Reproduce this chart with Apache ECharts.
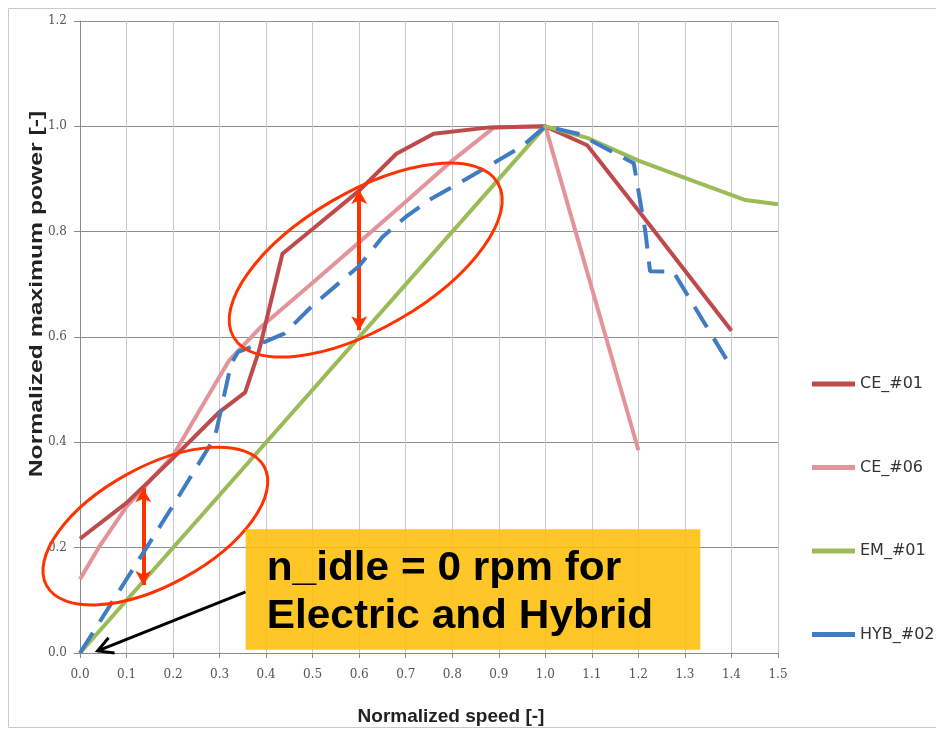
<!DOCTYPE html>
<html><head><meta charset="utf-8">
<script src="https://cdn.jsdelivr.net/npm/echarts@6/dist/echarts.min.js"></script>
<style>html,body{margin:0;padding:0;background:#fff}#c{width:936px;height:731px}</style>
</head><body><div id="c"></div>
<script>
// ---- data ----
const seriesNames = ['CE_#01', 'CE_#06', 'EM_#01', 'HYB_#02'];

const ce01X = [0, 0.1, 0.2, 0.3, 0.355, 0.385, 0.435, 0.5, 0.6, 0.68, 0.76, 0.88, 1.0, 1.09, 1.2, 1.4];
const ce01Y = [0.217, 0.285, 0.37, 0.458, 0.495, 0.575, 0.758, 0.805, 0.878, 0.948, 0.986, 0.998, 1.0, 0.964, 0.84, 0.612];

const ce06X = [0, 0.04, 0.1, 0.2, 0.26, 0.32, 0.39, 0.5, 0.6, 0.7, 0.8, 0.89, 1.0, 1.2];
const ce06Y = [0.14, 0.2, 0.278, 0.375, 0.465, 0.555, 0.62, 0.703, 0.78, 0.857, 0.935, 0.998, 1.0, 0.385];

const em01X = [0, 1.0, 1.09, 1.2, 1.3, 1.43, 1.5];
const em01Y = [0, 1.0, 0.978, 0.935, 0.902, 0.86, 0.852];

const hyb02X = [0, 0.1, 0.2, 0.29, 0.325, 0.34, 0.39, 0.44, 0.5, 0.6, 0.65, 0.7, 0.75, 0.83, 0.95, 1.0, 1.07, 1.19, 1.215, 1.225, 1.275, 1.4];
const hyb02Y = [0, 0.14, 0.28, 0.41, 0.55, 0.572, 0.588, 0.607, 0.66, 0.735, 0.79, 0.828, 0.86, 0.9, 0.962, 1.0, 0.986, 0.93, 0.8, 0.725, 0.724, 0.542];

const xAxisRange = [0, 1.5, 0.1];   // min, max, interval
const yAxisRange = [0, 1.2, 0.2];

const annotationText = ['n_idle = 0 rpm for', 'Electric and Hybrid'];
const xTitle = 'Normalized speed [-]';
const yTitle = 'Normalized maximum power [-]';

// annotation anchors in data coordinates
const arrowHigh = [[0.6, 0.879], [0.6, 0.613]];
const arrowLow = [[0.136, 0.313], [0.136, 0.129]];
const ellipseHighCenter = [0.614, 0.746];
const ellipseLowCenter = [0.162, 0.241];
const boxCorners = [[0.356, 0.235], [1.333, 0.006]];
const pointerFromTo = [[0.356, 0.116], [0.038, 0.004]];

const colors = ['#BF4A4C', '#E3939A', '#9BBB59', '#3F7CC4'];

const zip = (xs, ys) => xs.map((x, i) => [x, ys[i]]);

const chart = echarts.init(document.getElementById('c'));
const redArrow = '#FF3300';
const titleFont = 'Liberation Sans, Arial, sans-serif';

const option = {
  animation: false,
  backgroundColor: '#ffffff',
  grid: { left: 80, right: 158, top: 21, bottom: 78 },
  legend: {
    orient: 'vertical', left: 807, top: 371, itemGap: 67.5,
    itemWidth: 43, itemHeight: 5, icon: 'rect',
    textStyle: { fontSize: 16, fontFamily: 'DejaVu Sans, sans-serif', color: '#333' },
    data: seriesNames
  },
  xAxis: {
    type: 'value', min: xAxisRange[0], max: xAxisRange[1], interval: xAxisRange[2],
    name: xTitle, nameLocation: 'middle', nameGap: 54,
    nameTextStyle: { fontSize: 19, fontWeight: 'bold', fontFamily: titleFont, color: '#222', padding: [0, 0, 0, 44] },
    axisLine: { lineStyle: { color: '#8a8a8a', width: 1 } },
    axisTick: { show: true, length: 5, lineStyle: { color: '#8a8a8a' } },
    axisLabel: { margin: 16, fontSize: 12, fontFamily: 'DejaVu Serif, serif', color: '#555', formatter: v => v.toFixed(1) },
    splitLine: { show: true, lineStyle: { color: '#c8c8c8', width: 1 } }
  },
  yAxis: {
    type: 'value', min: yAxisRange[0], max: yAxisRange[1], interval: yAxisRange[2],
    axisLine: { show: true, lineStyle: { color: '#8a8a8a', width: 1 } },
    axisTick: { show: true, length: 6, lineStyle: { color: '#8a8a8a' } },
    axisLabel: { margin: 13, fontSize: 12, fontFamily: 'DejaVu Serif, serif', color: '#555', formatter: v => v.toFixed(1) },
    splitLine: { show: true, lineStyle: { color: '#8f8f8f', width: 1 } }
  },
  series: [
    { name: seriesNames[0], type: 'line', data: zip(ce01X, ce01Y), showSymbol: false, color: colors[0], lineStyle: { width: 4 }, z: 3 },
    { name: seriesNames[1], type: 'line', data: zip(ce06X, ce06Y), showSymbol: false, color: colors[1], lineStyle: { width: 4 }, z: 2 },
    { name: seriesNames[2], type: 'line', data: zip(em01X, em01Y), showSymbol: false, color: colors[2], lineStyle: { width: 4 }, z: 4 },
    { name: seriesNames[3], type: 'line', data: zip(hyb02X, hyb02Y), showSymbol: false, color: colors[3],
      lineStyle: { width: 4, type: [24, 13] }, z: 5,
      markLine: {
        silent: true, symbol: ['arrow', 'arrow'], symbolSize: [12, 14],
        lineStyle: { color: redArrow, width: 4, type: 'solid' },
        label: { show: false },
        emphasis: { disabled: true },
        data: [
          [{ coord: arrowHigh[0] }, { coord: arrowHigh[1] }],
          [{ coord: arrowLow[0] }, { coord: arrowLow[1] }]
        ]
      }
    }
  ]
};
chart.setOption(option);

const px = p => chart.convertToPixel({ gridIndex: 0 }, p);
const e1 = px(ellipseHighCenter), e2 = px(ellipseLowCenter);
const b0 = px(boxCorners[0]), b1 = px(boxCorners[1]);
const pA = px(pointerFromTo[0]), pB = px(pointerFromTo[1]);
const dx = pA[0] - pB[0], dy = pA[1] - pB[1];
const L = Math.hypot(dx, dy), ux = dx / L, uy = dy / L;
const headLen = 17, ang = 0.5;
const rot = (x, y, a) => [x * Math.cos(a) - y * Math.sin(a), x * Math.sin(a) + y * Math.cos(a)];
const h1 = rot(ux, uy, ang), h2 = rot(ux, uy, -ang);

chart.setOption({
  graphic: [
    { type: 'rect', shape: { x: 8.5, y: 8.5, width: 960, height: 719 }, style: { fill: 'none', stroke: '#c9c9c9', lineWidth: 1 }, z: 0, silent: true },
    { type: 'text', x: 37, y: 294, rotation: Math.PI / 2, scaleX: 1.3,
      style: { text: yTitle, fontSize: 19, fontWeight: 'bold', fontFamily: titleFont, fill: '#222', align: 'center', verticalAlign: 'middle' },
      z: 10, silent: true },
    { type: 'ellipse', x: e1[0], y: e1[1], rotation: 30.3 * Math.PI / 180, shape: { cx: 0, cy: 0, rx: 153, ry: 68 },
      style: { fill: 'none', stroke: redArrow, lineWidth: 3 }, z: 50, silent: true },
    { type: 'ellipse', x: e2[0], y: e2[1], rotation: 28.7 * Math.PI / 180, shape: { cx: 0, cy: 0, rx: 124, ry: 59 },
      style: { fill: 'none', stroke: redArrow, lineWidth: 3 }, z: 50, silent: true },
    { type: 'rect', shape: { x: b0[0], y: b0[1], width: b1[0] - b0[0], height: b1[1] - b0[1] },
      style: { fill: 'rgba(255,190,10,0.88)' }, z: 60, silent: true },
    { type: 'text', x: b0[0] + 21, y: b0[1] + 39.5, scaleX: 1.06,
      style: { text: annotationText[0], fontSize: 40, fontWeight: 'bold', fontFamily: titleFont, fill: '#000', verticalAlign: 'middle' },
      z: 61, silent: true },
    { type: 'text', x: b0[0] + 21, y: b0[1] + 87.5, scaleX: 1.06,
      style: { text: annotationText[1], fontSize: 40, fontWeight: 'bold', fontFamily: titleFont, fill: '#000', verticalAlign: 'middle' },
      z: 61, silent: true },
    { type: 'line', shape: { x1: pA[0], y1: pA[1], x2: pB[0], y2: pB[1] }, style: { stroke: '#000', lineWidth: 3 }, z: 55, silent: true },
    { type: 'polyline', shape: { points: [[pB[0] + h1[0] * headLen, pB[1] + h1[1] * headLen], pB, [pB[0] + h2[0] * headLen, pB[1] + h2[1] * headLen]] },
      style: { stroke: '#000', lineWidth: 3, fill: 'none' }, z: 55, silent: true }
  ]
});
</script>
</body></html>
